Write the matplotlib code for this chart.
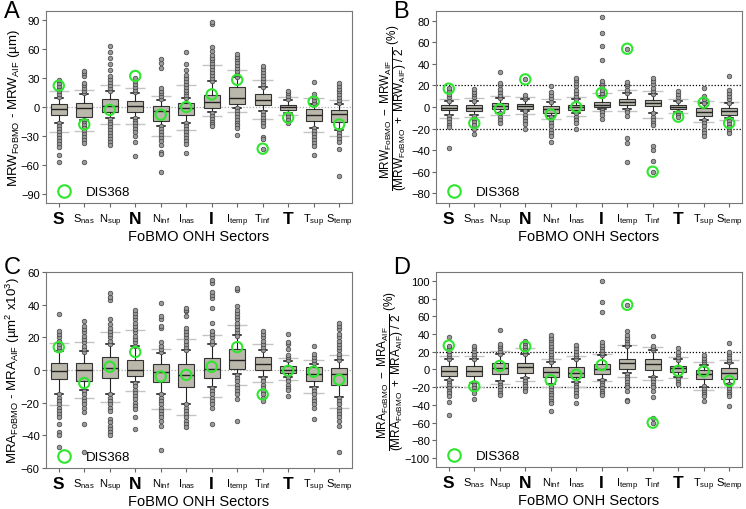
import numpy as np
import matplotlib
matplotlib.use("Agg")
import matplotlib.pyplot as plt
from matplotlib.lines import Line2D

plt.rcParams['font.family'] = ['Liberation Sans', 'DejaVu Sans']
plt.rcParams['mathtext.fontset'] = 'custom'
plt.rcParams['mathtext.rm'] = 'Liberation Sans'
plt.rcParams['mathtext.it'] = 'Liberation Sans:italic'
plt.rcParams['mathtext.bf'] = 'Liberation Sans:bold'

sectors = ['S', r'S$_{\mathrm{nas}}$', r'N$_{\mathrm{sup}}$', 'N', r'N$_{\mathrm{inf}}$',
           r'I$_{\mathrm{nas}}$', 'I', r'I$_{\mathrm{temp}}$', r'T$_{\mathrm{inf}}$', 'T',
           r'T$_{\mathrm{sup}}$', r'S$_{\mathrm{temp}}$']
major = ['S', 'N', 'I', 'T']

# ---- panel A: MRW difference (um)
a_q3 = [3, 4, 8, 6.5, 1.4, 3.8, 12.8, 20.8, 13.8, 2, -1.8, -2.8]
a_med = [-2, -1.5, 1.4, 0.7, -4.5, -1, 4.8, 9, 7.6, 0, -8, -7]
a_q1 = [-8, -10, -5.5, -5.5, -14, -8, -1, 3.1, 1.7, -2.8, -14, -15.6]
a_p90 = [9, 13, 17, 14.5, 7.6, 9, 26.5, 31, 21, 7.6, 3.5, 3.4]
a_p10 = [-16.5, -13, -11.4, -11, -20, -16.5, -5.6, -1, -4.6, -6.2, -21.8, -23.4]
a_p95 = [16, 18, 23, 20, 11, 23, 43, 38, 28, 10, 9, 7.6]
a_p5 = [-26, -25, -18, -18, -30, -24, -9, -5, -12.5, -8.5, -26, -30]
a_dis = [22, -18, -3, 32, -8, 0, 13, 28, -43, -11, 5.5, -18]
a_out = [
    [10, 13, 16, 19, 22, 25, 28, -17, -20, -23, -26, -29, -32, -35, -38, -41, -50, -57],
    [14, 17, 20, 23, 25, 32, 35, 37, -13, -16, -19, -22, -25, -28, -31, -34, -37, -57],
    [17, 20, 23, 26, 29, 32, 38, 44, 51, 57, 63, -12, -15, -18, -21, -24, -27, -30, -33, -36, -39],
    [15, 18, 21, 24, 27, 30, -11, -14, -17, -20, -23, -26, -30, -36, -51],
    [8, 11, 14, 17, 20, 40, 45, 49, -20, -23, -26, -29, -32, -35, -39, -46, -48, -67],
    [9, 12, 15, 18, 21, 24, 27, 30, 33, 38, 44, 57, -17, -20, -23, -26, -29, -32, -35, -38, -47],
    [27, 30, 33, 36, 39, 42, 45, 48, 51, 54, 58, 62, 86, 88, -6, -9, -12, -15, -18, -20],
    [31, 34, 37, 40, 43, 46, 49, 52, 55, -1, -4, -7, -10, -13, -16, -19, -22, -29],
    [21, 24, 27, 30, 33, 36, 39, 42, -5, -8, -11, -14, -17, -20, -31, -33, -43],
    [8, 11, 14, 17, -7, -10, -13, -16],
    [4, 7, 10, 13, 26, -22, -25, -28, -31, -34, -37, -40, -49],
    [4, 7, 10, 13, 16, 19, 22, 25, -24, -27, -30, -33, -36, -43, -71],
]

# ---- panel B: MRW relative difference (%)
b_q3 = [1.4, 2, 3.3, 2.6, 0.8, 2, 4.8, 7.6, 6.4, 1.4, -1, -1]
b_med = [-0.8, -0.5, 0.8, 0.8, -2.3, 0, 2.3, 4.5, 3.9, 0, -4.5, -3.3]
b_q1 = [-3, -3.3, -1.7, -1.7, -5.4, -2.6, 0, 1.4, 0.8, -1.7, -8, -7.3]
b_p90 = [5.4, 5.4, 8, 7, 4.8, 7, 10, 13, 11.6, 5.4, 4, 3.3]
b_p10 = [-7, -7, -5.4, -3.9, -8.5, -6, -2.3, -2.3, -5.4, -4.5, -12, -10]
b_p95 = [7, 8, 10, 9, 7, 9, 13, 15.7, 14.8, 7.6, 6, 5]
b_p5 = [-10, -9, -7.6, -6.7, -10.7, -8.5, -3.9, -4, -10, -6, -13.8, -11.6]
b_dis = [17, -15, -2, 25.6, -7, 0, 13, 54, -60, -9, 4, -15]
b_out = [
    [6, 9, 12, 15, 18, -8, -11, -14, -17, -19, -38],
    [6, 9, 12, 14, 17, -8, -11, -14, -17, -20, -25],
    [8, 11, 14, 17, 20, 22, 32, -6, -9, -12, -15],
    [7, 9, 11, 25.5, -4, -7, -10, -13, -16, -20],
    [5, 8, 11, 14, 19, -9, -12, -15, -18, -21, -24, -27, -32],
    [7, 10, 13, 16, 19, 22, 25, 27, -6, -9, -12, -15, -20],
    [10, 13, 16, 19, 22, 24, 44, 57, 69, 83, -3, -5, -7, -11],
    [13, 16, 19, 21, 23, 54, -3, -5, -8, -29, -33, -51],
    [12, 15, 18, 21, 24, 27, -6, -9, -12, -15, -17, -36, -40, -50, -60],
    [6, 9, 12, 15, -5, -7, -9],
    [4, 7, 10, 18, -12, -15, -18, -21, -24, -27],
    [4, 7, 10, 13, 16, 29, -10, -13, -16, -19, -22, -24],
]

# ---- panel C: MRA difference (um^2 x10^3)
c_q3 = [4.2, 4.2, 7.9, 6.3, 3.4, 3.4, 7.3, 13, 7.9, 2.4, 1.7, 1.1]
c_med = [-0.5, -0.3, 1.3, 0.3, -1.3, -2.8, 0.7, 6.3, 3.4, 0.3, -2.4, -2.4]
c_q1 = [-5.7, -6.9, -5, -3.4, -7.5, -10.6, -4.8, 0.7, 0.1, -1.7, -6.9, -9.2]
c_p90 = [11.6, 11.6, 15.7, 15, 10.6, 12, 15.7, 21.3, 12, 5.5, 3.8, 5.9]
c_p10 = [-14.7, -12.5, -14.7, -7.5, -14.7, -21, -10.6, -2.4, -4.4, -4.4, -10.6, -16.8]
c_p95 = [16.6, 17, 23, 24.4, 13, 19, 21.3, 27.5, 16, 7.5, 5.9, 9]
c_p5 = [-21.3, -17.3, -19.8, -12.8, -23.6, -27.7, -16.4, -9, -7.5, -6, -14.3, -23.4]
c_dis = [14, -8, 2, 11, -4, -3, 2, 14, -15, -0.5, -1, -6]
c_out = [
    [12, 14, 16, 18, 20, 22, 24, 34, -15, -17, -19, -21, -23, -25, -27, -29, -33, -38, -40, -47],
    [11, 13, 15, 17, 19, 21, 23, 25, 27, 30, -13, -15, -17, -19, -21, -23, -26, -33, -50],
    [16, 18, 20, 22, 24, 26, 28, 31, 43, 45, 47, -15, -17, -19, -21, -23, -25, -30, -32, -34, -36, -38, -40],
    [15, 17, 19, 21, 23, 25, 27, 29, 31, 33, 35, 37, -8, -10, -12, -14, -16, -18, -20, -22, -24, -29, -36],
    [11, 13, 15, 17, 26, 27, 31, 33, 41, -15, -17, -19, -21, -23, -25, -27, -29, -31, -34, -49],
    [12, 14, 16, 18, 20, 22, 24, 26, 33, 36, 37, 38, -21, -23, -25, -27, -29, -31, -33, -35],
    [16, 18, 20, 22, 24, 29, 38, 44, 46, 48, 53, 55, -11, -13, -15, -17, -19, -21, -23, -33],
    [21, 23, 25, 27, 29, 31, 33, 35, 37, 39, 49, 50, -3, -5, -7, -9, -11, -13, -15, -18, -31],
    [12, 14, 16, 18, 20, 22, 24, -5, -7, -9, -11, -13, -15, -17, -19],
    [6, 8, 9, 13, 16, 17, 22, -5, -7, -9, -11, -12, -16],
    [4, 6, 8, 10, 15, -11, -13, -15, -17, -19, -21, -23, -30],
    [6, 8, 10, 12, 14, 16, 18, 20, 22, 25, 27, 29, -17, -19, -21, -23, -25, -27, -29, -31, -34, -50],
]

# ---- panel D: MRA relative difference (%)
d_q3 = [3.9, 3.9, 7, 7, 3.2, 3.2, 6.2, 12.2, 11.4, 3.9, -0.6, 1.3]
d_med = [-1.7, -1.3, 1.3, 2.4, -2.4, -3.6, 0.2, 7, 5.8, 1.3, -5, -4.3]
d_q1 = [-7.3, -7.3, -5, -3.6, -8, -8.8, -5, 0.2, -0.6, -3.2, -11, -11]
d_p90 = [11.4, 11.4, 18, 18, 8.8, 11.4, 16.3, 26.5, 22, 11.4, 5, 7.7]
d_p10 = [-11.8, -14.8, -13.3, -10, -16.7, -13.7, -11.8, -4.3, -8, -8, -19.3, -16.3]
d_p95 = [15, 15, 21, 24, 11.4, 15, 18, 27.6, 25.7, 14.4, 8.8, 10.7]
d_p5 = [-18.6, -19.3, -16.3, -13, -19.3, -19.3, -13.3, -8.8, -11.8, -10, -23, -20]
d_dis = [27, -19, 4, 26, -12, -6, 5, 73, -60, -1.5, -2, -13]
d_out = [
    [12, 15, 18, 21, 24, 27, 37, -12, -15, -18, -21, -24, -27, -30, -37, -51],
    [12, 15, 18, 21, 24, 26, -15, -18, -21, -24, -27, -33],
    [18, 21, 24, 27, 29, 45, -14, -17, -20, -23, -26, -29],
    [18, 21, 24, 27, 30, 32, -10, -13, -16, -19, -22, -24],
    [9, 12, 15, 18, 21, 24, 27, 30, 33, 36, 39, -17, -20, -23, -26, -29, -32, -35, -38, -47],
    [12, 15, 18, 21, 24, 28, -14, -17, -20, -23, -26, -30, -38],
    [16, 19, 22, 25, 28, 31, 65, 76, 100, -12, -15, -18, -21, -24, -27, -29],
    [27, 30, 33, 36, 39, 43, 73, -5, -8, -11, -14, -17, -20, -24, -34, -36],
    [22, 24, 26, 38, -8, -11, -14, -17, -20, -24, -31, -55, -60],
    [11, 14, 17, 20, 24, -8, -11, -14, -16],
    [5, 8, 11, 13, 16, -19, -22, -25, -28, -30, -36],
    [8, 11, 14, 17, 20, 30, -16, -19, -22, -25, -28, -30, -41],
]

BOX_FACE = '#bab8ab'
GREEN = '#2ee62e'


def draw_panel(ax, q1, med, q3, p10, p90, p5, p95, outliers, dis, ylim, yticks, ylabel,
               ylabel_size=9, label_x=-0.075, zero_line=True, ref_lines=()):
    pos = np.arange(1, len(sectors) + 1)

    # lighter 5th / 95th percentile marks
    ax.hlines(p5, pos - 0.4, pos + 0.4, color='#c4c4c4', lw=1, zorder=1)
    ax.hlines(p95, pos - 0.4, pos + 0.4, color='#c4c4c4', lw=1, zorder=1)

    if zero_line:
        ax.axhline(0, color='#aaaaaa', ls=(0, (1, 1.5)), lw=0.9, zorder=0.5)
    for r in ref_lines:
        ax.axhline(r, color='black', ls=(0, (1, 1.5)), lw=0.9, zorder=0.5)

    stats = [dict(med=m, q1=a, q3=b, whislo=lo, whishi=hi, fliers=[])
             for m, a, b, lo, hi in zip(med, q1, q3, p10, p90)]
    ax.bxp(stats, positions=pos, widths=0.62, showfliers=False, patch_artist=True,
           boxprops=dict(facecolor=BOX_FACE, edgecolor='#333333', lw=0.8),
           medianprops=dict(color='#222222', lw=1),
           whiskerprops=dict(color='#222222', lw=0.8),
           capprops=dict(color='#111111', lw=1.1), manage_ticks=False)

    for x, vals in zip(pos, outliers):
        ax.scatter(np.full(len(vals), x), vals, s=11, facecolor='#9a9a9a',
                   edgecolor='#404040', linewidths=0.5, zorder=3)

    ax.scatter(pos, dis, s=55, facecolor='none', edgecolor=GREEN, linewidths=1.5, zorder=4)

    h = Line2D([], [], ls='none', marker='o', ms=9, mfc='none', mec=GREEN, mew=1.5)
    ax.legend([h], ['DIS368'], loc='lower left', frameon=False, fontsize=9.5,
              handletextpad=0.7, borderaxespad=0.05, borderpad=0.3)

    ax.set_xlim(0.5, len(sectors) + 0.5)
    ax.set_ylim(*ylim)
    ax.set_yticks(yticks)
    ax.set_xticks(pos)
    ax.set_xticklabels(sectors)
    for t in ax.get_xticklabels():
        if t.get_text() in major:
            t.set_fontsize(12.5)
            t.set_fontweight('bold')
        else:
            t.set_fontsize(8)
    ax.tick_params(axis='y', labelsize=8, length=3, pad=1.5, color='#666666')
    ax.tick_params(axis='x', length=3, color='#666666', pad=3)
    for s in ax.spines.values():
        s.set_color('#777777')
    ax.set_xlabel('FoBMO ONH Sectors', fontsize=10.5, labelpad=1)
    ax.set_ylabel(ylabel, fontsize=ylabel_size)
    ax.yaxis.set_label_coords(label_x, 0.5)


fig = plt.figure(figsize=(7.46, 5.10), dpi=100)
axA = fig.add_axes([0.0617, 0.600, 0.410, 0.3765])
axB = fig.add_axes([0.5845, 0.600, 0.410, 0.3765])
axC = fig.add_axes([0.0617, 0.0804, 0.410, 0.3843])
axD = fig.add_axes([0.5845, 0.0824, 0.410, 0.3823])

draw_panel(axA, a_q1, a_med, a_q3, a_p10, a_p90, a_p5, a_p95, a_out, a_dis,
           (-99, 99), np.arange(-90, 91, 30),
           r'MRW$_{\mathrm{FoBMO}}$ - MRW$_{\mathrm{AIF}}$ (µm)',
           ylabel_size=9.5, label_x=-0.078)
draw_panel(axB, b_q1, b_med, b_q3, b_p10, b_p90, b_p5, b_p95, b_out, b_dis,
           (-89, 89), np.arange(-80, 81, 20),
           r'$\dfrac{\mathrm{MRW_{FoBMO}\ -\ MRW_{AIF}}}{\mathrm{(MRW_{FoBMO}\ +\ MRW_{AIF})\ /\ 2}}$ (%)',
           ylabel_size=8.5, label_x=-0.088, zero_line=False, ref_lines=(20, -20))
draw_panel(axC, c_q1, c_med, c_q3, c_p10, c_p90, c_p5, c_p95, c_out, c_dis,
           (-60, 60), np.arange(-60, 61, 20),
           r'MRA$_{\mathrm{FoBMO}}$ - MRA$_{\mathrm{AIF}}$ (µm$^{2}$ x10$^{3}$)',
           ylabel_size=9.5, label_x=-0.078)
draw_panel(axD, d_q1, d_med, d_q3, d_p10, d_p90, d_p5, d_p95, d_out, d_dis,
           (-110, 110), np.arange(-100, 101, 20),
           r'$\dfrac{\mathrm{MRA_{FoBMO}\ -\ MRA_{AIF}}}{\mathrm{(MRA_{FoBMO}\ +\ MRA_{AIF})\ /\ 2}}$ (%)',
           ylabel_size=8.5, label_x=-0.098, zero_line=False, ref_lines=(20, -20))

for label, x, y in [('A', 0.005, 0.998), ('B', 0.527, 0.998), ('C', 0.005, 0.497), ('D', 0.527, 0.497)]:
    fig.text(x, y, label, fontsize=17, va='top', ha='left')

fig.savefig('out.png', dpi=100)
